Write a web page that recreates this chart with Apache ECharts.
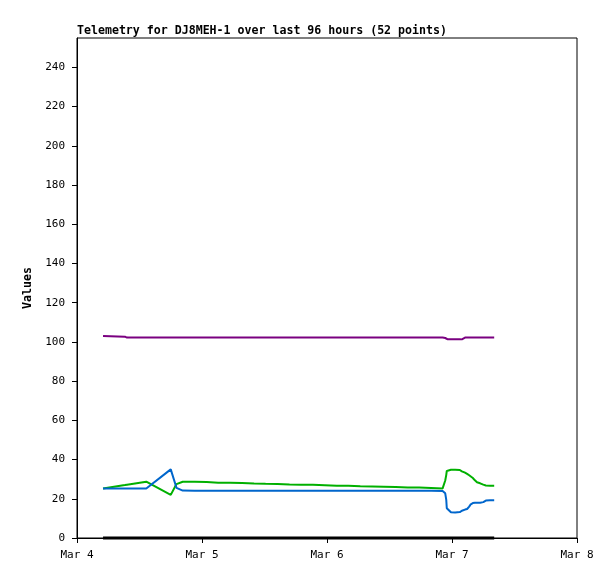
<!DOCTYPE html>
<html>
<head>
<meta charset="utf-8">
<script src="https://cdn.jsdelivr.net/npm/echarts@6/dist/echarts.min.js"></script>
<style>
html,body{margin:0;padding:0;background:#fff;}
#chart{width:615px;height:579px;}
</style>
</head>
<body>
<div id="chart"></div>
<script>
// hours since Mar 4 00:00
var hours = [5.0, 9.2, 9.6, 13.3, 18.0, 19.1, 20.3,
  22.6, 24.9, 27.1, 29.4, 31.7, 34.0, 36.2, 38.5, 40.8, 43.0, 45.3, 47.6, 49.9, 52.1, 54.4, 56.7, 58.9, 61.2, 63.5, 65.7, 68.0,
  70.2, 70.5, 70.7, 70.9, 71.0, 71.2, 71.8, 72.6, 73.5, 73.7, 73.9, 74.1, 74.5, 74.9, 75.3, 75.6, 76.0, 76.4, 76.8, 77.4, 78.0, 78.5, 79.3, 80.1];
var purple = [103.0, 102.7, 102.2, 102.2, 102.2, 102.2, 102.2,
  102.2, 102.2, 102.2, 102.2, 102.2, 102.2, 102.2, 102.2, 102.2, 102.2, 102.2, 102.2, 102.2, 102.2, 102.2, 102.2, 102.2, 102.2, 102.2, 102.2, 102.2,
  102.2, 102.2, 102.0, 101.5, 101.3, 101.3, 101.3, 101.3, 101.4, 102.0, 101.3, 102.2, 102.2, 102.2, 102.2, 102.2, 102.2, 102.2, 102.2, 102.2, 102.2, 102.2, 102.2, 102.2];
var green = [25.2, 27.0, 27.2, 28.7, 22.0, 27.5, 28.7,
  28.7, 28.6, 28.2, 28.2, 28.1, 27.8, 27.7, 27.6, 27.3, 27.2, 27.1, 26.9, 26.7, 26.6, 26.4, 26.3, 26.2, 26.0, 25.8, 25.7, 25.5,
  25.3, 25.6, 29.3, 32.2, 34.2, 34.8, 34.8, 34.8, 34.7, 34.2, 34.0, 33.8, 33.3, 32.7, 32.0, 31.4, 30.6, 29.4, 28.4, 27.9, 27.2, 26.8, 26.7, 26.7];
var blue = [25.3, 25.3, 25.3, 25.2, 35.0, 25.6, 24.2,
  24.1, 24.1, 24.1, 24.1, 24.1, 24.1, 24.1, 24.1, 24.1, 24.1, 24.1, 24.1, 24.1, 24.1, 24.1, 24.1, 24.1, 24.1, 24.1, 24.1, 24.1,
  24.0, 24.0, 22.8, 19.4, 15.2, 14.3, 13.1, 13.0, 13.2, 13.8, 13.9, 14.0, 14.5, 14.8, 16.0, 17.2, 17.8, 18.0, 18.0, 18.0, 18.3, 19.1, 19.2, 19.2];
var black = [0,0,0,0,0,0,0, 0,0,0,0,0,0,0,0,0,0,0,0,0,0,0,0,0,0,0,0,0, 0,0,0,0,0,0,0,0,0,0,0,0,0,0,0,0,0,0,0,0,0,0,0,0];
var xTickLabels = ['Mar 4', 'Mar 5', 'Mar 6', 'Mar 7', 'Mar 8'];
var yTicks = [0, 20, 40, 60, 80, 100, 120, 140, 160, 180, 200, 220, 240];
var titleText = 'Telemetry for DJ8MEH-1 over last 96 hours (52 points)';

function pairs(vals){ return vals.map(function(v,i){ return [hours[i], v]; }); }
var mono = 'DejaVu Sans Mono';
function mk(name, vals, color, w){
  return {name:name, type:'line', data:pairs(vals), symbol:'none', clip:false, lineStyle:{color:color, width:w||2}, itemStyle:{color:color}, animation:false};
}
var chart = echarts.init(document.getElementById('chart'));
chart.setOption({
  animation:false,
  backgroundColor:'#fff',
  title:{text:titleText, left:72, top:20, textStyle:{fontFamily:mono, fontSize:11.6, fontWeight:'bold', color:'#000'}},
  grid:{left:77, top:38, right:38, bottom:41, show:true, borderColor:'#000', borderWidth:1},
  xAxis:{type:'value', min:0, max:96, interval:24,
    axisLine:{lineStyle:{color:'#000', width:1}},
    axisTick:{show:true, length:5, lineStyle:{color:'#000'}},
    axisLabel:{margin:12, fontFamily:mono, fontSize:11, color:'#000', formatter:function(v){ return xTickLabels[Math.round(v/24)]; }},
    splitLine:{show:false}},
  yAxis:{type:'value', min:0, max:255, interval:20,
    name:'Values', nameLocation:'middle', nameGap:37, nameRotate:90,
    nameTextStyle:{fontFamily:mono, fontSize:11.6, fontWeight:'bold', color:'#000'},
    axisLine:{show:true, lineStyle:{color:'#000', width:1}},
    axisTick:{show:true, length:5, lineStyle:{color:'#000'}, customValues:yTicks},
    axisLabel:{margin:12, fontFamily:mono, fontSize:11, color:'#000', customValues:yTicks},
    splitLine:{show:false}},
  series:[
    mk('black', black, '#000000', 3),
    mk('purple', purple, '#7a0080'),
    mk('green', green, '#00b000'),
    mk('blue', blue, '#0066cc')
  ]
});
</script>
</body>
</html>
